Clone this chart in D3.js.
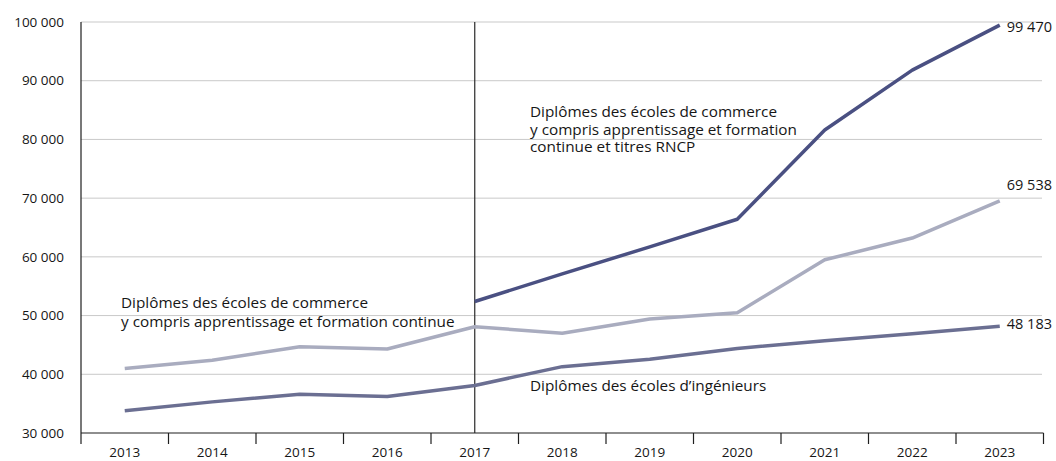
<!DOCTYPE html>
<html><head><meta charset="utf-8">
<script src="https://cdn.jsdelivr.net/npm/d3@7"></script>
<style>
html,body{margin:0;padding:0;background:#fff;}
svg{display:block;font-family:"Open Sans",sans-serif;}
</style></head>
<body><svg id="chart" width="1056" height="461"></svg>
<script>
const years = [2013,2014,2015,2016,2017,2018,2019,2020,2021,2022,2023];
const commerceTotal = [null,null,null,null,52400,57100,61700,66400,81600,91800,99470];
const commerceApprentissage = [41000,42400,44700,44300,48100,47000,49400,50500,59500,63200,69538];
const ingenieurs = [33800,35300,36600,36200,38100,41300,42550,44400,45700,46900,48183];
const yTicks = [30000,40000,50000,60000,70000,80000,90000,100000];
const labelCommerceTotal = ["Diplômes des écoles de commerce","y compris apprentissage et formation","continue et titres RNCP"];
const labelCommerceApp = ["Diplômes des écoles de commerce","y compris apprentissage et formation continue"];
const labelIngenieurs = ["Diplômes des écoles d\u2019ingénieurs"];

const fr = d3.formatLocale({decimal:",",thousands:" ",grouping:[3],currency:["","\u00a0€"]});
const fmt = v => fr.format(",")(v);

const svg = d3.select("#chart");
const mLeft = 81, mRight = 1043.5, mTop = 22, mBottom = 433;
const x = d3.scaleBand().domain(years).range([mLeft,mRight]);
const y = d3.scaleLinear().domain([30000,100000]).range([mBottom,mTop]);
const cx = d => x(d) + x.bandwidth()/2;

// gridlines
svg.append("g").selectAll("line").data(yTicks.slice(1)).join("line")
  .attr("x1",mLeft).attr("x2",1042).attr("y1",d=>y(d)).attr("y2",d=>y(d))
  .attr("stroke","#c9c9c9").attr("stroke-width",1);

// y labels
svg.append("g").selectAll("text").data(yTicks).join("text")
  .attr("x",64).attr("y",d=>y(d)).attr("dy","0.35em").attr("text-anchor","end")
  .attr("font-size",13.5).attr("fill","#161616").text(d=>fmt(d));

// y axis line
svg.append("line").attr("x1",mLeft).attr("x2",mLeft).attr("y1",mTop).attr("y2",mBottom)
  .attr("stroke","#1e1e1e").attr("stroke-width",1.2);

// x axis
const xAxis = svg.append("g").attr("transform",`translate(0,${mBottom})`);
xAxis.append("line").attr("x1",mLeft).attr("x2",mRight).attr("stroke","#1e1e1e").attr("stroke-width",1.2);
const tickPos = years.map(d=>x(d)).concat([mRight]);
xAxis.selectAll("line.tick").data(tickPos).join("line").attr("class","tick")
  .attr("x1",d=>d).attr("x2",d=>d).attr("y1",0).attr("y2",11)
  .attr("stroke","#1e1e1e").attr("stroke-width",1.2);
xAxis.selectAll("text").data(years).join("text")
  .attr("x",d=>cx(d)).attr("y",19).attr("dy","0.35em").attr("text-anchor","middle")
  .attr("font-size",13.5).attr("fill","#161616").text(d=>d);

// 2017 vertical line
svg.append("line").attr("x1",cx(2017)).attr("x2",cx(2017)).attr("y1",mTop).attr("y2",mBottom)
  .attr("stroke","#2a2a2a").attr("stroke-width",1.2);

const line = d3.line().defined(d=>d[1]!=null).x(d=>cx(d[0])).y(d=>y(d[1]));
const series = [
  {vals:ingenieurs,color:"#6b6f92",dy:"0.2em"},
  {vals:commerceApprentissage,color:"#a9acbf",dy:"-0.75em"},
  {vals:commerceTotal,color:"#4a5082",dy:"0.5em"}
];
series.forEach(s=>{
  svg.append("path").datum(years.map((yr,i)=>[yr,s.vals[i]]))
    .attr("d",line).attr("fill","none").attr("stroke",s.color).attr("stroke-width",3.5)
    .attr("stroke-linejoin","round");
  const last = s.vals[s.vals.length-1];
  svg.append("text").attr("x",cx(2023)+7).attr("y",y(last)).attr("dy",s.dy)
    .attr("font-size",14.5).attr("fill","#161616").text(fmt(last));
});

function multiline(lines,xp,y0,lh){
  const t = svg.append("text").attr("font-size",15.3).attr("fill","#161616");
  lines.forEach((l,i)=>t.append("tspan").attr("x",xp).attr("y",y0+i*lh).text(l));
}
multiline(labelCommerceTotal,530,117,17.5);
multiline(labelCommerceApp,121,308,19);
multiline(labelIngenieurs,530,391,18);
</script></body></html>
